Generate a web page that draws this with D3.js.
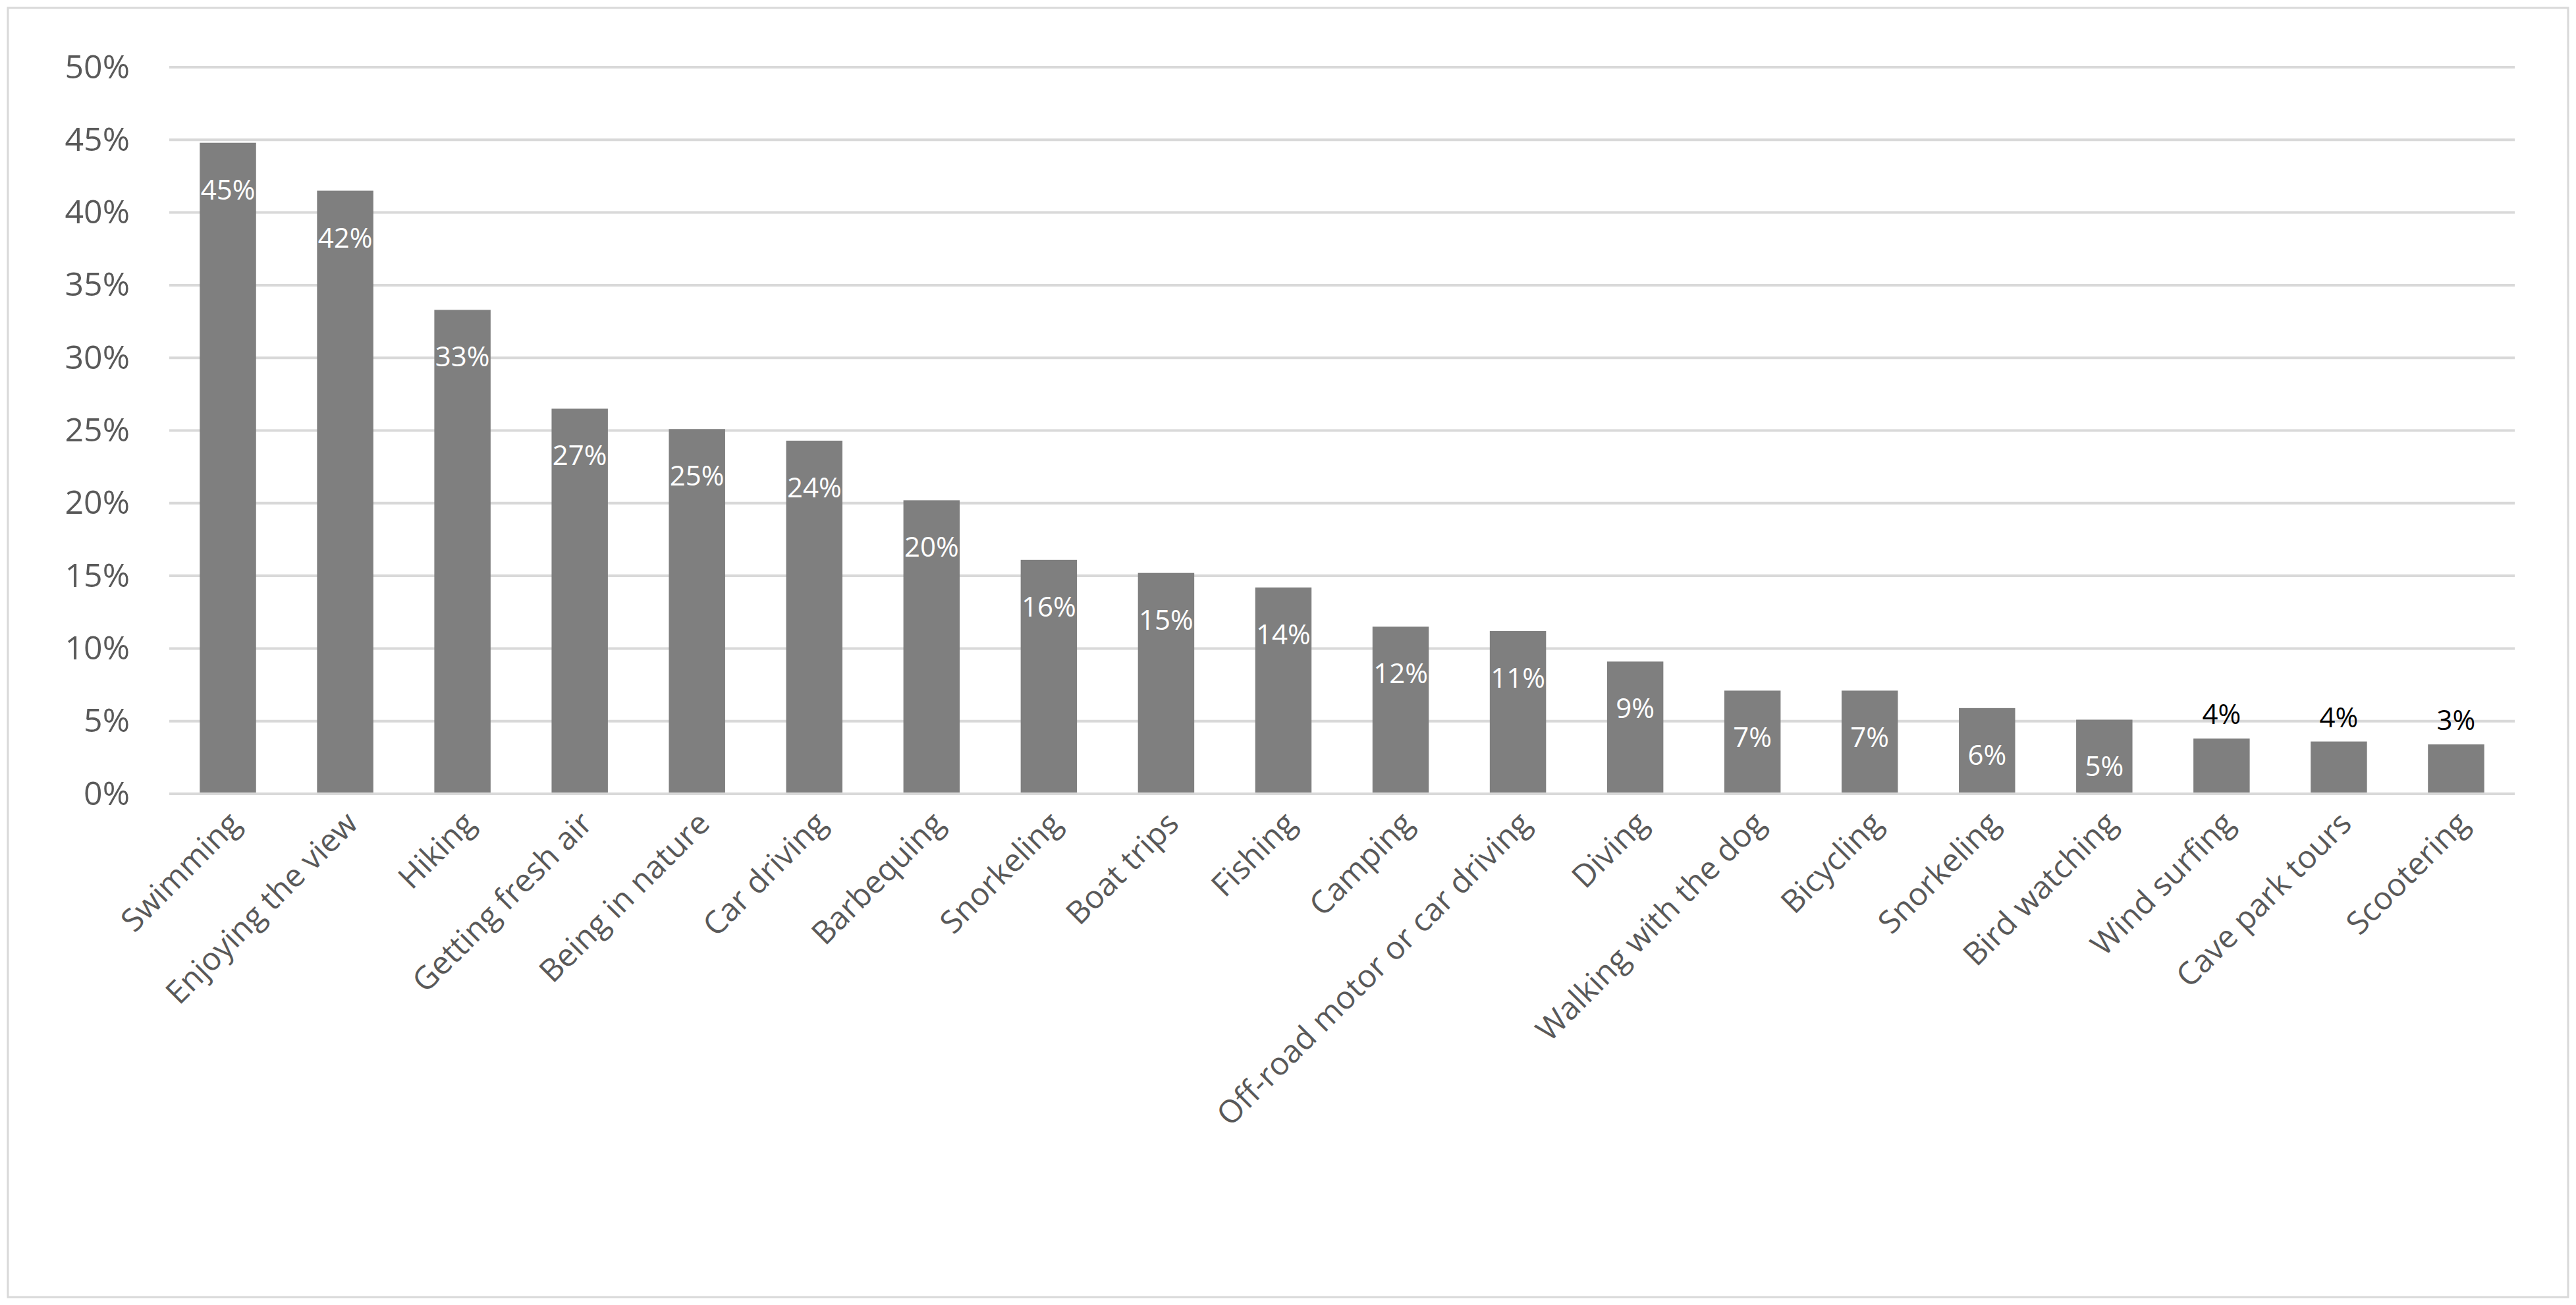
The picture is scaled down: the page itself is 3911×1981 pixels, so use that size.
<!DOCTYPE html>
<html>
<head>
<meta charset="utf-8">
<script src="https://cdn.jsdelivr.net/npm/d3@7"></script>
<style>
  body { margin: 0; background: #fff; }
  text { font-family: "Open Sans", "Noto Sans", sans-serif; }
</style>
</head>
<body>
<svg id="chart" width="3911" height="1981"></svg>
<script>
var categories = ["Swimming", "Enjoying the view", "Hiking", "Getting fresh air", "Being in nature",
  "Car driving", "Barbequing", "Snorkeling", "Boat trips", "Fishing", "Camping",
  "Off-road motor or car driving", "Diving", "Walking with the dog", "Bicycling",
  "Snorkeling", "Bird watching", "Wind surfing", "Cave park tours", "Scootering"];
var values = [44.8, 41.5, 33.3, 26.5, 25.1, 24.3, 20.2, 16.1, 15.2, 14.2, 11.5, 11.2, 9.1, 7.1, 7.1, 5.9, 5.1, 3.8, 3.6, 3.4];
var dataLabels = ["45%", "42%", "33%", "27%", "25%", "24%", "20%", "16%", "15%", "14%", "12%", "11%", "9%", "7%", "7%", "6%", "5%", "4%", "4%", "3%"];
var ticks = [0, 5, 10, 15, 20, 25, 30, 35, 40, 45, 50];

var svg = d3.select('#chart');
var W = 3911, H = 1981;
var plotLeft = 257, plotRight = 3818, plotTop = 102, plotBottom = 1205;

// outer frame
svg.append('rect')
  .attr('x', 12).attr('y', 12)
  .attr('width', W - 24).attr('height', H - 24)
  .attr('fill', 'none').attr('stroke', '#d9d9d9').attr('stroke-width', 3);

var x = d3.scaleBand().domain(d3.range(categories.length)).range([plotLeft, plotRight]).paddingInner(0.52).paddingOuter(0.26);
var y = d3.scaleLinear().domain([0, 50]).range([plotBottom, plotTop]);

// gridlines
svg.append('g').selectAll('line')
  .data(ticks)
  .enter()
  .append('line')
  .attr('x1', plotLeft).attr('x2', plotRight)
  .attr('y1', function(d){ return y(d); })
  .attr('y2', function(d){ return y(d); })
  .attr('stroke', '#d9d9d9').attr('stroke-width', 4);

// y axis labels
var yAxis = d3.axisLeft(y).tickValues(ticks).tickSize(0).tickPadding(60)
  .tickFormat(function(d){ return d + '%'; });
var gy = svg.append('g').attr('transform', 'translate(' + plotLeft + ',0)').call(yAxis);
gy.select('.domain').remove();
gy.selectAll('text').attr('font-size', 50).attr('fill', '#595959')
  .attr('font-family', '"Open Sans", sans-serif');

// bars
svg.append('g').selectAll('rect')
  .data(values)
  .enter()
  .append('rect')
  .attr('x', function(d, i){ return x(i); })
  .attr('y', function(d){ return y(d); })
  .attr('width', x.bandwidth())
  .attr('height', function(d){ return plotBottom - y(d); })
  .attr('fill', '#7f7f7f');

// baseline
svg.append('line')
  .attr('x1', plotLeft).attr('x2', plotRight)
  .attr('y1', plotBottom).attr('y2', plotBottom)
  .attr('stroke', '#d9d9d9').attr('stroke-width', 4);

// data labels
svg.append('g').selectAll('text')
  .data(values)
  .enter()
  .append('text')
  .text(function(d, i){ return dataLabels[i]; })
  .attr('x', function(d, i){ return x(i) + x.bandwidth() / 2; })
  .attr('y', function(d){ return d < 4.5 ? y(d) - 22 : y(d) + 86; })
  .attr('text-anchor', 'middle')
  .attr('font-size', 42)
  .attr('fill', function(d){ return d < 4.5 ? '#000' : '#fff'; });

// category labels
svg.append('g').selectAll('text')
  .data(categories)
  .enter()
  .append('text')
  .text(function(d){ return d; })
  .attr('transform', function(d, i){
    var cx = x(i) + x.bandwidth() / 2 + 22;
    return 'translate(' + cx + ',' + (plotBottom + 48) + ') rotate(-45)';
  })
  .attr('text-anchor', 'end')
  .attr('font-size', 48)
  .attr('fill', '#595959');
</script>
</body>
</html>
